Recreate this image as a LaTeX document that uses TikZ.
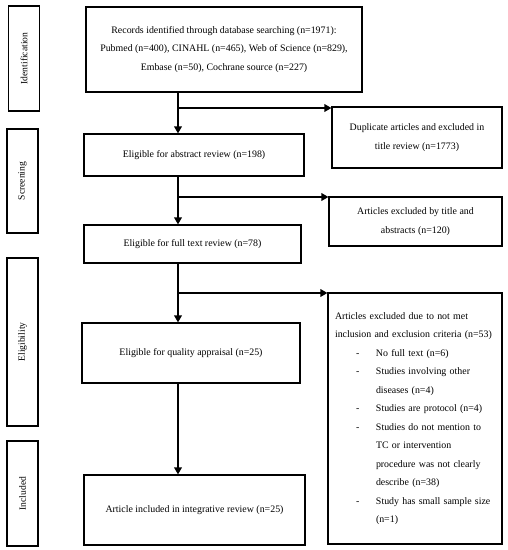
\documentclass[tikz,border=0pt]{standalone}
\usepackage{fontspec}
\setmainfont{Liberation Serif}
\usetikzlibrary{arrows.meta}
\begin{document}
\begin{tikzpicture}[x=1pt,y=-1pt,
  box/.style={draw=black,line width=1.1pt,inner sep=0pt,align=center,
    font=\fontsize{9.9}{18.5}\selectfont},
  side/.style={draw=black,line width=1.1pt,inner sep=0pt,minimum width=31pt},
  sidetext/.style={rotate=90,font=\fontsize{9.6}{11}\selectfont},
  flow/.style={line width=2.3pt,-{Triangle[length=7pt,width=7.5pt]}},
  branch/.style={line width=2.3pt}]
\useasboundingbox (0,0) rectangle (508,550);
% side labels
\node[side,minimum height=105pt] (sid) at (24,58.5) {};
\node[sidetext] (tid) at (sid.center) {Identification};
\node[side,minimum height=104pt] (ssc) at (22.5,181) {};
\node[sidetext] (tsc) at (ssc.center) {Screening};
\node[side,minimum height=168pt] (sel) at (22.5,342) {};
\node[sidetext] (tel) at (sel.center) {Eligibility};
\node[side,minimum height=105pt] (sin) at (22.5,493.5) {};
\node[sidetext] (tin) at (sin.center) {Included};
% main boxes
\node[box,minimum width=276pt,minimum height=85pt] (rec) at (224,49.5)
  {Records identified through database searching (n=1971):\\
   Pubmed (n=400), CINAHL (n=465), Web of Science (n=829),\\
   Embase (n=50), Cochrane source (n=227)};
\node[box,minimum width=220pt,minimum height=42pt] (abs) at (194,155)
  {Eligible for abstract review (n=198)};
\node[box,minimum width=217pt,minimum height=38pt] (full) at (192.5,244)
  {Eligible for full text review (n=78)};
\node[box,minimum width=218pt,minimum height=60pt] (qual) at (191,353)
  {Eligible for quality appraisal (n=25)};
\node[box,minimum width=221pt,minimum height=70pt] (inc) at (194.5,510)
  {Article included in integrative review (n=25)};
% exclusion boxes
\node[box,minimum width=170pt,minimum height=61pt] (dup) at (417,137.5)
  {Duplicate articles and excluded in\\ title review (n=1773)};
\node[box,minimum width=173pt,minimum height=49pt] (tit) at (415.5,221.5)
  {Articles excluded by title and\\ abstracts (n=120)};
\node[box,minimum width=174pt,minimum height=251pt,text width=160pt,
  inner xsep=7pt,align=left] (big) at (415,418.5)
  {Articles excluded due to not met\\
   inclusion and exclusion criteria (n=53)\\
   \makebox[41pt][l]{\hspace*{21pt}-}No full text (n=6)\\
   \makebox[41pt][l]{\hspace*{21pt}-}Studies involving other\\
   \hspace*{41pt}diseases (n=4)\\
   \makebox[41pt][l]{\hspace*{21pt}-}Studies are protocol (n=4)\\
   \makebox[41pt][l]{\hspace*{21pt}-}Studies do not mention to\\
   \hspace*{41pt}TC or intervention\\
   \hspace*{41pt}procedure was not clearly\\
   \hspace*{41pt}describe (n=38)\\
   \makebox[41pt][l]{\hspace*{21pt}-}Study has small sample size\\
   \hspace*{41pt}(n=1)};
% connectors
\coordinate (m) at (178,0);
\coordinate (b1) at (178,108);
\coordinate (b2) at (178,197);
\coordinate (b3) at (178,293);
\draw[flow] (rec.south -| m) -- (abs.north -| m);
\draw[flow] (abs.south -| m) -- (full.north -| m);
\draw[flow] (full.south -| m) -- (qual.north -| m);
\draw[flow] (qual.south -| m) -- (inc.north -| m);
\draw[flow] (b1) -- (b1 -| dup.west);
\draw[flow] (b2) -- (b2 -| tit.west);
\draw[flow] (b3) -- (b3 -| big.west);
\end{tikzpicture}
\end{document}
